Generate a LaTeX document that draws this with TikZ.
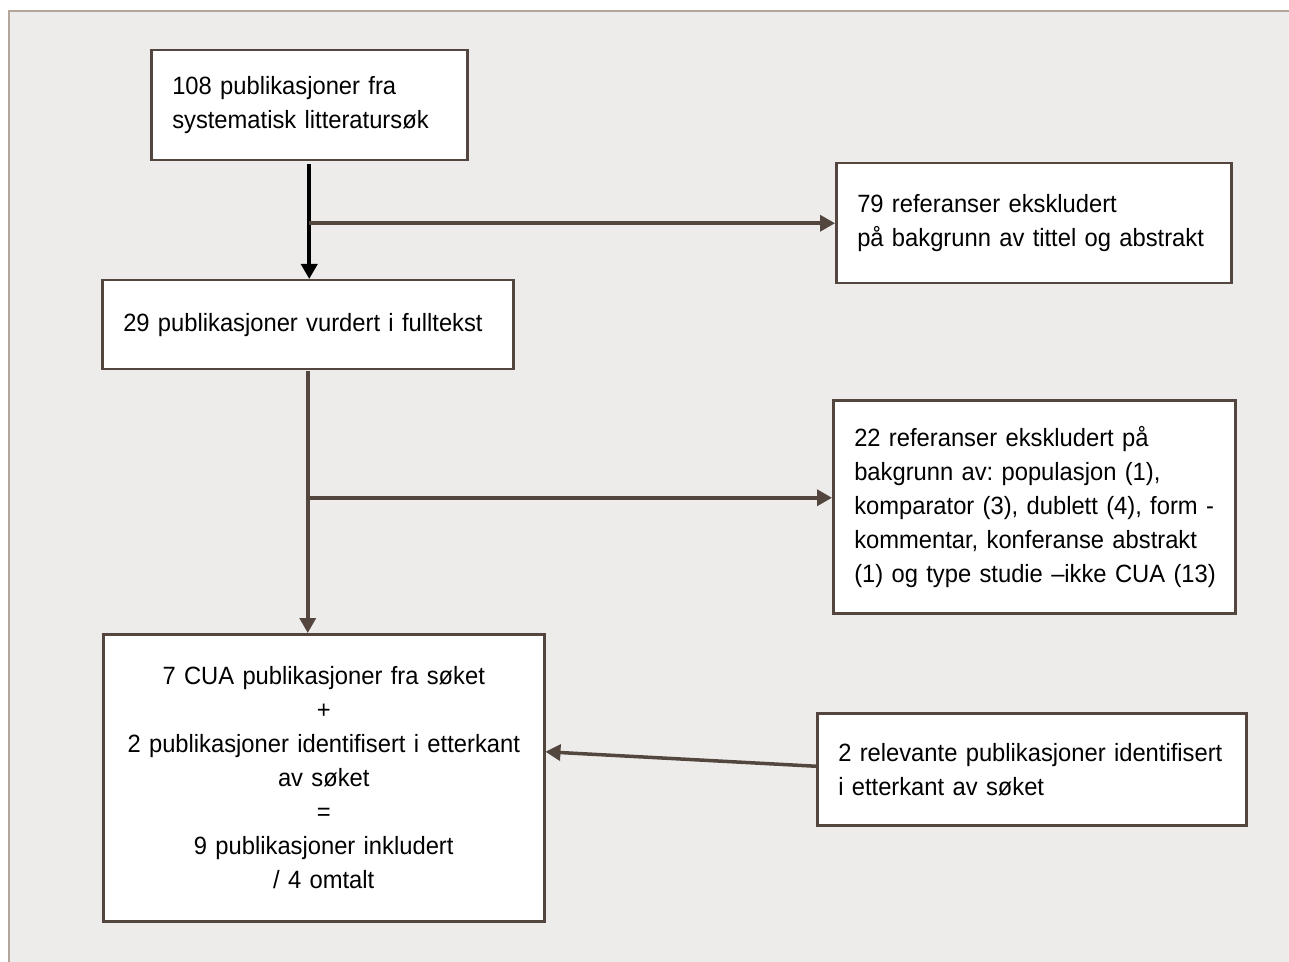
\documentclass[tikz,border=0pt]{standalone}
\usepackage{fontspec}
\setmainfont{Liberation Sans}[FakeStretch=0.95]
\usetikzlibrary{arrows.meta}

\definecolor{linebrown}{HTML}{53463E}
\definecolor{framefill}{HTML}{EEECEA}
\definecolor{frameedge}{HTML}{B5A69C}

\tikzset{
    boks/.style={draw=linebrown, line width=1.25pt, fill=white, anchor=north west,
        inner xsep=10.5pt, inner ysep=0pt, align=left,
        font=\fontsize{12.5pt}{17pt}\selectfont\frenchspacing},
    pil/.style={draw=linebrown, line width=1.75pt, -{Triangle[length=7.5pt,width=8pt]}},
    svartpil/.style={draw=black, line width=2pt, -{Triangle[length=7.5pt,width=8pt]}}
}

\begin{document}
\begin{tikzpicture}[x=0.5pt,y=-0.5pt]
    \useasboundingbox (0,0) rectangle (1289,962);
    % ramme
    \fill[white] (0,0) rectangle (1289,962);
    \fill[framefill] (9,11) rectangle (1289,962);
    \draw[frameedge, line width=1pt] (9,962) -- (9,11) -- (1289,11);

    \node[boks, text width=137pt, minimum height=55pt] (sok) at (150,49)
        {108 publikasjoner fra\\systematisk litteratursøk};
    \node[boks, text width=184.5pt, minimum height=44.5pt] (fulltekst) at (101,279)
        {29 publikasjoner vurdert i fulltekst};
    \node[boks, text width=176.5pt, minimum height=60pt] (eks1) at (835,162)
        {79 referanser ekskludert\\på bakgrunn av tittel og abstrakt};
    \node[boks, text width=180pt, minimum height=106.5pt] (eks2) at (832,399)
        {22 referanser ekskludert på\\bakgrunn av: populasjon (1),\\\mbox{komparator (3), dublett (4), form -}\\\mbox{kommentar, konferanse abstrakt}\\\mbox{(1) og type studie –ikke CUA (13)}};
    \node[boks, align=center, text width=199.5pt, minimum height=143.5pt] (inkl) at (102,633)
        {7 CUA publikasjoner fra søket\\+\\2 publikasjoner identifisert i etterkant\\av søket\\=\\9 publikasjoner inkludert\\/ 4 omtalt};
    \node[boks, text width=193.5pt, minimum height=56pt] (etter) at (816,712)
        {2 relevante publikasjoner identifisert\\i etterkant av søket};

    \coordinate (gren2) at ([yshift=4.5pt]eks2.west);

    % piler
    \draw[svartpil] ([yshift=-1.5pt]sok.south) -- (sok.south |- fulltekst.north);
    \draw[pil] (sok.south |- eks1.west) -- (eks1.west);
    \draw[pil] (fulltekst.south) -- (fulltekst.south |- inkl.north);
    \draw[pil] (fulltekst.south |- gren2) -- (gren2);
    \draw[pil] ([yshift=1.5pt]etter.west) -- ([yshift=13pt]inkl.east);
\end{tikzpicture}
\end{document}
